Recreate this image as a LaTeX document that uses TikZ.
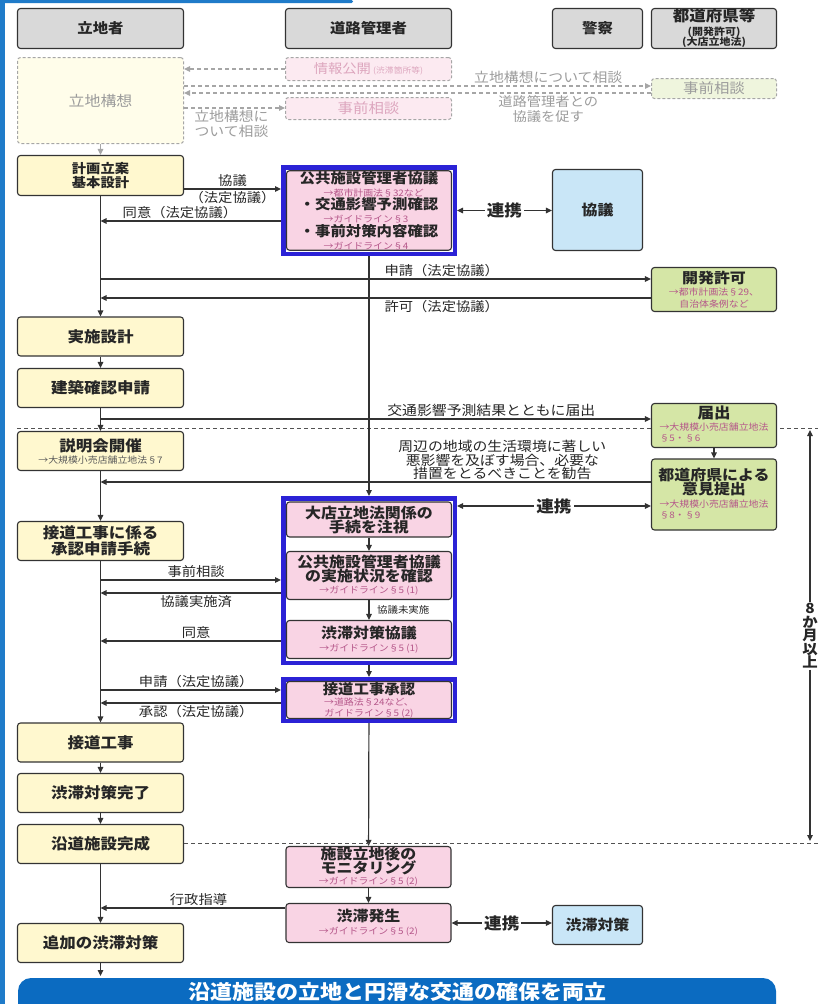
\documentclass[tikz,border=0pt]{standalone}
\usepackage{fontspec}
\setmainfont{Noto Sans CJK JP}[FakeStretch=1.1]
\usetikzlibrary{arrows.meta}

\definecolor{linec}{HTML}{333333}
\definecolor{textc}{HTML}{262626}
\definecolor{headg}{HTML}{D9D9D9}
\definecolor{yel}{HTML}{FFF8CF}
\definecolor{pnk}{HTML}{F9D4E4}
\definecolor{grn}{HTML}{D5E6A6}
\definecolor{lblue}{HTML}{C9E6F7}
\definecolor{frameblue}{HTML}{2B22D6}
\definecolor{bandblue}{HTML}{0B6BC1}
\definecolor{sideblue}{HTML}{1F7BC9}
\definecolor{fadeg}{HTML}{A6A6A6}
\definecolor{fadetxt}{HTML}{9C9C9C}
\definecolor{fadepink}{HTML}{DDA6BE}
\definecolor{fadeyel}{HTML}{FFFDEA}
\definecolor{fadepnk}{HTML}{FCEAF1}
\definecolor{fadegrn}{HTML}{EFF5DD}
\definecolor{refpink}{HTML}{B5578A}
\definecolor{refgray}{HTML}{5A5A5A}

\newcommand\fsz[2]{\fontsize{#1}{#2}\selectfont\lineskiplimit=-50pt\lineskip=0pt\relax}
\newcommand\reftxt{\fsz{9}{11}\mdseries\color{refpink}}
\newcommand\reflines[1]{{\reftxt\lineskiplimit=0pt\begin{tabular}[t]{@{}l@{}}#1\end{tabular}}}

\tikzset{
  box/.style={draw=linec, line width=1.1pt, rounded corners=3pt, inner sep=0pt, align=center, text=textc},
  head/.style={box, fill=headg, minimum height=40pt, font=\fsz{14}{15}\bfseries},
  ybox/.style={box, fill=yel, minimum width=166pt, minimum height=39pt, font=\fsz{15}{16}\bfseries},
  pbox/.style={box, fill=pnk, minimum width=165pt, font=\fsz{14.5}{14}\bfseries},
  gbox/.style={box, fill=grn, minimum width=125pt, font=\fsz{14.5}{14}\bfseries},
  cbox/.style={box, fill=lblue, minimum width=90pt, font=\fsz{14.5}{15}\bfseries},
  bframe/.style={draw=frameblue, line width=4.5pt, fill=white, minimum width=171.5pt, inner sep=0pt},
  fadebox/.style={draw=fadeg, line width=1pt, dash pattern=on 3pt off 2pt, rounded corners=3pt, inner sep=0pt, align=center},
  flow/.style={draw=linec, line width=1.2pt},
  fadeflow/.style={draw=fadeg, line width=1.1pt, dash pattern=on 4pt off 3pt},
  lbl/.style={font=\fsz{13}{14}, text=textc, inner sep=1.5pt, align=center},
  fadelbl/.style={font=\fsz{13.5}{14.5}, text=fadetxt, inner sep=1.5pt, align=center},
  renkei/.style={font=\fsz{16}{16}\bfseries, text=textc, fill=white, inner sep=2pt},
  sep/.style={draw=linec!85, line width=0.9pt, dash pattern=on 4pt off 3pt}
}

\begin{document}
\begin{tikzpicture}[x=1pt,y=-1pt,>={Triangle[length=6pt,width=5.5pt]}]
\useasboundingbox (0,0) rectangle (818,1004);
\fill[sideblue] (0,0) rectangle (5,1004);
\fill[sideblue, rounded corners=1.5pt] (0,0) rectangle (353,3);

% separator behind the boxes
\coordinate (sepAL) at (17,428);
\coordinate (sepAR) at (818,428);
\draw[sep] (sepAL) -- (sepAR);

% headers
\foreach \n/\x/\w/\t in {hA/100.5/166pt/立地者, hB/368.5/166pt/道路管理者, hC/597.5/90pt/警察}
  \node[head, minimum width=\w] (\n) at (\x,28.5) {\t};
\node[head, minimum width=125pt, font=\fsz{10}{10.5}\bfseries] (hD) at (714,28.5) {{\fsz{15}{10.5}\bfseries 都道府県等}\\[3pt](開発許可)\\(大店立地法)};

% 立地者
\node[fadebox, fill=fadeyel, minimum width=166pt, minimum height=86pt, text=fadetxt, font=\fsz{14.5}{15}] (kousou) at (100.5,100.5) {立地構想};
\node[ybox, font=\fsz{13}{14}\bfseries, minimum height=40pt] (keikaku) at (100.5,175.5) {計画立案\\基本設計};
\foreach \n/\y/\t in {jisshi/336.5/実施設計, kenchiku/388/建築確認申請, setsudo/742.5/接道工事, kanryo/793/渋滞対策完了, kansei/844/沿道施設完成, tsuika/943/追加の渋滞対策}
  \node[ybox] (\n) at (100.5,\y) {\t};
\node[ybox, font=\fsz{15}{12}\bfseries] (setsumei) at (100.5,451) {説明会開催\\{\fsz{9}{10}\mdseries\color{refgray}→大規模小売店舗立地法§7}};
\node[ybox, font=\fsz{15}{15.5}\bfseries] (shonin) at (100.5,541) {接道工事に係る\\承認申請手続};

% 道路管理者
\node[fadebox, fill=fadepnk, minimum width=166pt, minimum height=23pt, text=fadepink, font=\fsz{13}{14}] (joho) at (368.5,69) {情報公開\,{\fsz{8}{9}(渋滞箇所等)}};
\node[fadebox, fill=fadepnk, minimum width=166pt, minimum height=22pt, text=fadepink, font=\fsz{14}{15}] (jizen) at (368.5,108.5) {事前相談};

\node[bframe, minimum height=86.5pt] (g1) at (369,210.5) {};
\node[pbox, minimum height=79.5pt, align=left, font=\fsz{14}{13.3}\bfseries] (g1t) at (369,210.5)
  {公共施設管理者協議\\\hspace*{24pt}{\reftxt →都市計画法§32など}\\・交通影響予測確認\\\hspace*{24pt}{\reftxt →ガイドライン§3}\\・事前対策内容確認\\\hspace*{24pt}{\reftxt →ガイドライン§4}};

\node[bframe, minimum height=164.5pt] (g2) at (369,580.5) {};
\node[pbox, minimum height=35pt] (chushi) at (369,519.5) {大店立地法関係の\\手続を注視};
\node[pbox, minimum height=48pt] (jokyo) at (369,575.5) {公共施設管理者協議\\の実施状況を確認\\[-2pt]{\reftxt →ガイドライン§5 (1)}};
\node[pbox, minimum height=38pt, font=\fsz{14.5}{13}\bfseries] (taisaku) at (369,639.5) {渋滞対策協議\\{\reftxt →ガイドライン§5 (1)}};

\node[bframe, minimum height=41.5pt] (g3) at (369,700) {};
\node[pbox, minimum height=37pt, font=\fsz{14}{11}\bfseries] (shoninR) at (369,700) {接道工事承認\\{\reftxt →道路法§24など、}\\{\reftxt ガイドライン§5 (2)}};

\node[pbox, minimum height=41pt, font=\fsz{14.5}{13.5}\bfseries] (monitor) at (368.5,867) {施設立地後の\\モニタリング\\[-2pt]{\reftxt →ガイドライン§5 (2)}};
\node[pbox, minimum height=39pt, font=\fsz{14.5}{13}\bfseries] (hassei) at (368.5,923) {渋滞発生\\{\reftxt →ガイドライン§5 (2)}};

% 警察
\node[cbox, minimum height=81pt] (kyogi) at (597.5,210) {協議};
\node[cbox, minimum height=39pt] (jutaiT) at (597.5,925) {渋滞対策};

% 都道府県等
\node[fadebox, fill=fadegrn, minimum width=125pt, minimum height=20pt, text=fadetxt, font=\fsz{14}{15}] (pjizen) at (714,88.5) {事前相談};
\node[gbox, minimum height=44pt, font=\fsz{14.5}{12}\bfseries] (kaihatsu) at (714,289.5) {開発許可\\{\reftxt →都市計画法§29、}\\{\reftxt 自治体条例など}};
\node[gbox, minimum height=44pt, font=\fsz{15}{12}\bfseries] (todoke) at (714,425.5) {届出\\\reflines{→大規模小売店舗立地法\\§5・§6}};
\node[gbox, minimum height=71pt, font=\fsz{14.5}{14.5}\bfseries] (iken) at (714,494.5) {都道府県による\\意見提出\\[-2pt]\reflines{→大規模小売店舗立地法\\§8・§9}};

% faded consultation arrows
\coordinate (yTop1) at (0,86);
\coordinate (yTop2) at (0,93);
\coordinate (yTop3) at (0,108);
\draw[fadeflow,->] (joho.west) -- (joho.west -| kousou.east);
\draw[fadeflow,->] (kousou.east |- yTop1) -- (pjizen.west |- yTop1)
  node[pos=0.78, above, fadelbl] (lSoudan) {立地構想について相談};
\draw[fadeflow,->] (pjizen.west |- yTop2) -- (kousou.east |- yTop2)
  node[pos=0.22, below, fadelbl, font=\fsz{13}{15}] (lUnagasu) {道路管理者との\\協議を促す};
\draw[fadeflow,->] (kousou.east |- yTop3) -- (jizen.west |- yTop3)
  node[pos=0.47, below, fadelbl, font=\fsz{13.5}{15}] (lKousou) {立地構想に\\ついて相談};
\draw[draw=fadeg, line width=1.1pt, ->] (kousou) -- (keikaku);

% main flow
\draw[flow,->] (keikaku) -- (jisshi);
\foreach \a/\b in {jisshi/kenchiku, kenchiku/setsumei, setsumei/shonin, shonin/setsudo, setsudo/kanryo, kanryo/kansei, kansei/tsuika}
  \draw[flow,->] (\a) -- (\b);

\coordinate (yKyogi) at (0,189);
\coordinate (yDoiA) at (0,221);
\coordinate (yShinA) at (0,279);
\coordinate (yKyoka) at (0,298);
\draw[flow,->] (keikaku.east |- yKyogi) -- (g1.west |- yKyogi)
  node[midway, above, lbl] (lKyogi) {協議}
  node[midway, below, lbl] (lHoutei) {（法定協議）};
\draw[flow,->] (g1.west |- yDoiA) -- (keikaku.south |- yDoiA)
  node[pos=0.56, above, lbl] (lDoiA) {同意（法定協議）};
\draw[flow,->] (keikaku.south |- yShinA) -- (kaihatsu.west |- yShinA)
  node[pos=0.62, above, lbl] (lShinA) {申請（法定協議）};
\draw[flow,->] (kaihatsu.west |- yKyoka) -- (keikaku.south |- yKyoka)
  node[pos=0.38, below, lbl] (lKyoka) {許可（法定協議）};
\draw[flow,<->] (g1.east) -- (g1.east -| kyogi.west)
  node[midway, renkei] (rA) {連携};
\draw[flow,->] (g1) -- (g2);

\coordinate (yTodoke) at (0,419);
\coordinate (yKankoku) at (0,482);
\coordinate (yRenkei) at (0,506);
\draw[flow,->] (keikaku.south |- yTodoke) -- (todoke.west |- yTodoke)
  node[pos=0.71, above, lbl, font=\fsz{13.5}{14}] (lTodoke) {交通影響予測結果とともに届出};
\draw[flow,->] (todoke) -- (iken);
\draw[flow,->] (iken.west |- yKankoku) -- (keikaku.south |- yKankoku)
  node[pos=0.27, above, lbl, font=\fsz{13.5}{13.5}] (lKankoku) {周辺の地域の生活環境に著しい\\悪影響を及ぼす場合、必要な\\措置をとるべきことを勧告};
\draw[flow,<->] (g2.east |- yRenkei) -- (iken.west |- yRenkei)
  node[midway, renkei] (rB) {連携};

\draw[flow,->] (chushi) -- (jokyo);
\draw[flow,->] (jokyo) -- (taisaku)
  node[midway, right, xshift=6pt, lbl, font=\fsz{9.5}{10}] (lMijisshi) {協議未実施};

\coordinate (yJizen) at (0,580);
\coordinate (yZumi) at (0,593);
\coordinate (yDoiB) at (0,641);
\coordinate (yShinB) at (0,690);
\coordinate (yShonin) at (0,703);
\draw[flow,->] (keikaku.south |- yJizen) -- (g2.west |- yJizen)
  node[pos=0.53, above, lbl] (lJizen) {事前相談};
\draw[flow,->] (g2.west |- yZumi) -- (keikaku.south |- yZumi)
  node[pos=0.47, below, lbl] (lZumi) {協議実施済};
\draw[flow,->] (g2.west |- yDoiB) -- (keikaku.south |- yDoiB)
  node[pos=0.47, above, lbl] (lDoiB) {同意};
\draw[flow,->] (keikaku.south |- yShinB) -- (g3.west |- yShinB)
  node[pos=0.53, above, lbl] (lShinB) {申請（法定協議）};
\draw[flow,->] (g3.west |- yShonin) -- (keikaku.south |- yShonin)
  node[pos=0.47, below, lbl] (lShonin) {承認（法定協議）};
\draw[flow,->] (g2) -- (g3);
\draw[flow,->] (g3) -- (monitor);
\draw[flow,->] (monitor) -- (hassei);

\coordinate (yShido) at (0,908);
\draw[flow,->] (hassei.west |- yShido) -- (keikaku.south |- yShido)
  node[pos=0.47, above, lbl] (lShido) {行政指導};
\draw[flow,<->] (hassei.east) -- (hassei.east -| jutaiT.west)
  node[midway, renkei] (rC) {連携};

% second separator
\coordinate (sepBR) at (818,843);
\draw[sep] (kansei.east |- sepBR) -- (sepBR);

% period
\node[font=\fsz{14}{13.5}\bfseries, text=textc, align=center, inner sep=1pt] (months) at (810,636) {8\\か\\月\\以\\上};
\coordinate (mTop) at (810,430);
\coordinate (mBot) at (810,841);
\draw[flow,->] (months) -- (mTop);
\draw[flow,->] (months) -- (mBot);

% bottom band
\begin{scope}
\clip (0,0) rectangle (818,1004);
\fill[bandblue, rounded corners=13pt] (18,978) rectangle (776,1020);
\end{scope}
\node[text=white, font=\fsz{20}{22}\bfseries, inner sep=0pt] (band) at (397,992) {沿道施設の立地と円滑な交通の確保を両立};
\coordinate (bandTop) at (100.5,976);
\draw[flow,->] (tsuika) -- (bandTop);
\end{tikzpicture}
\end{document}
